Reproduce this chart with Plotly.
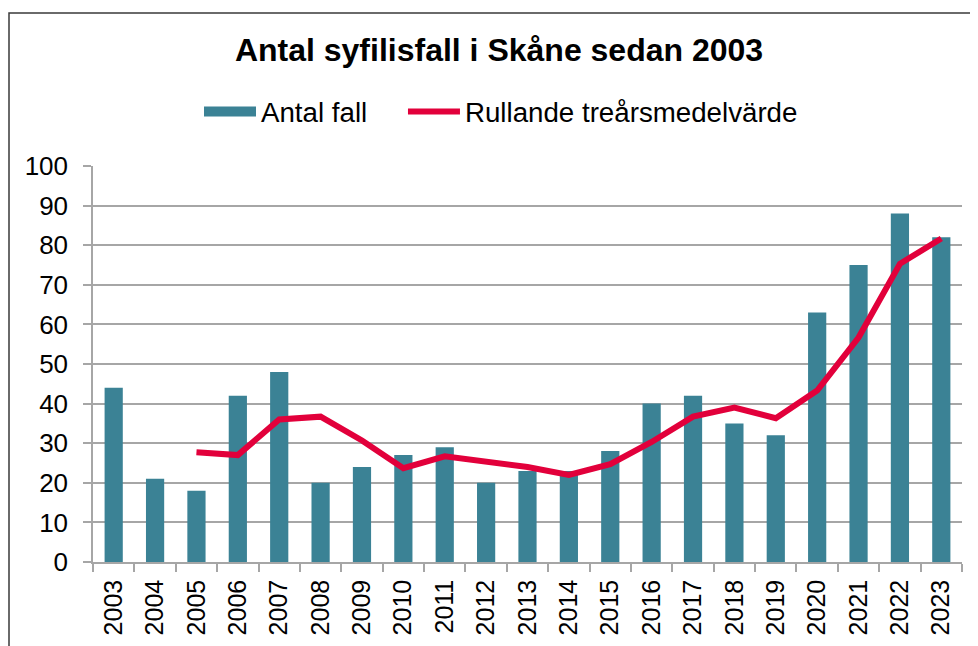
import plotly.graph_objects as go

years = ["2003", "2004", "2005", "2006", "2007", "2008", "2009", "2010", "2011", "2012",
         "2013", "2014", "2015", "2016", "2017", "2018", "2019", "2020", "2021", "2022", "2023"]
antal_fall = [44, 21, 18, 42, 48, 20, 24, 27, 29, 20, 23, 23, 28, 40, 42, 35, 32, 63, 75, 88, 82]
rullande = [None, None, 27.7, 27.0, 36.0, 36.7, 30.7, 23.7, 26.7, 25.3, 24.0, 22.0, 24.7,
            30.3, 36.7, 39.0, 36.3, 43.3, 56.7, 75.3, 81.7]
y_ticks = [0, 10, 20, 30, 40, 50, 60, 70, 80, 90, 100]

FONT = "Liberation Sans, Arial, sans-serif"
GRID = "#a6a6a6"
BAR = "#3b8295"
RED = "#e2003b"

# page has an 8px body margin, so the figure is drawn 8px smaller and shifted
OFF = 8
W, H = 978 - OFF, 646 - OFF
L, R, T, B = 93 - OFF, 16, 166 - OFF, 84
pw, ph = W - L - R, H - T - B

fig = go.Figure()
fig.add_trace(go.Bar(
    x=years, y=antal_fall, name="Antal fall", showlegend=False,
    marker=dict(color=BAR, line=dict(width=0)),
))
# legend swatch for the bars (wide rectangle like the original)
fig.add_trace(go.Scatter(
    x=[None], y=[None], name="Antal fall\u00a0\u00a0\u00a0\u00a0", mode="lines",
    line=dict(color=BAR, width=15),
))
fig.add_trace(go.Scatter(
    x=years, y=rullande, name="Rullande treårsmedelvärde", mode="lines",
    line=dict(color=RED, width=6), connectgaps=False,
))

fig.update_layout(
    width=W, height=H,
    margin=dict(l=L, r=R, t=T, b=B, autoexpand=False),
    paper_bgcolor="white", plot_bgcolor="white",
    bargap=0.56,
    font=dict(family=FONT, color="#000000"),
    title=dict(
        text="<b>Antal syfilisfall i Skåne sedan 2003</b>",
        font=dict(size=32, family=FONT, color="#000000"),
        x=(499 - OFF) / W, xanchor="center", xref="container",
        y=1 - (50 - OFF) / H, yanchor="middle", yref="container",
    ),
    legend=dict(
        orientation="h",
        x=(501 - L - OFF) / pw, xanchor="center",
        y=(H - B - (112 - OFF)) / ph, yanchor="middle",
        font=dict(size=27.7, family=FONT),
        itemwidth=52,
        traceorder="normal",
        bgcolor="rgba(0,0,0,0)",
    ),
    xaxis=dict(
        type="category",
        tickangle=-90,
        tickfont=dict(size=25, family=FONT),
        ticks="outside", tickson="boundaries", ticklen=8, tickcolor=GRID, tickwidth=1.5,
        showline=True, linecolor=GRID, linewidth=1.5,
        showgrid=False,
        ticklabelstandoff=6,
    ),
    yaxis=dict(
        range=[0, 100],
        tickvals=y_ticks,
        tickfont=dict(size=26, family=FONT),
        ticks="outside", ticklen=8, tickcolor=GRID, tickwidth=1.5,
        showline=True, linecolor=GRID, linewidth=1.5,
        showgrid=True, gridcolor=GRID, gridwidth=1.5,
        zeroline=False,
        ticklabelstandoff=10,
    ),
    shapes=[dict(
        type="rect", xref="paper", yref="paper",
        x0=(1 - L) / pw, x1=(W + 10 - L) / pw,
        y0=(H - B - 5) / ph, y1=(H - B - (H + 10)) / ph,
        line=dict(color="#3a3a3a", width=1.5), fillcolor="rgba(0,0,0,0)",
        layer="below",
    )],
)

fig.write_html("out.html")
